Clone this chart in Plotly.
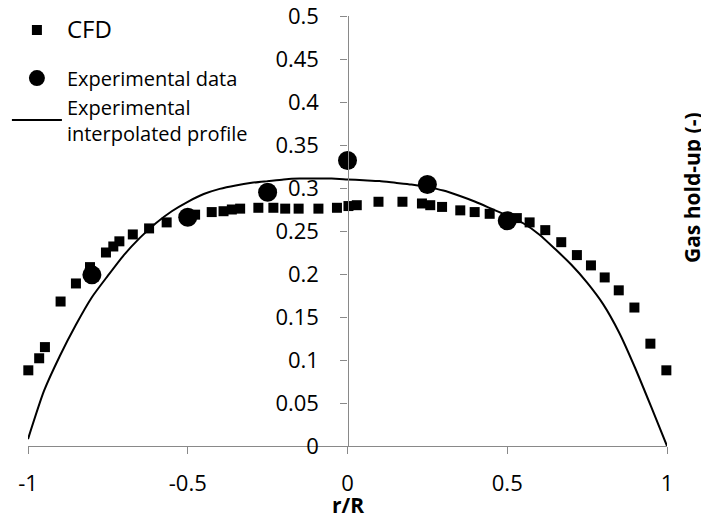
import plotly.graph_objects as go

# ---- data ----
cfd_x = [-0.999, -0.965, -0.947, -0.898, -0.850, -0.806, -0.756, -0.733, -0.714, -0.672,
         -0.621, -0.566, -0.477, -0.425, -0.388, -0.362, -0.336, -0.279, -0.232, -0.195,
         -0.153, -0.091, -0.033, 0.003, 0.029, 0.097, 0.172, 0.233, 0.259, 0.296,
         0.353, 0.398, 0.445, 0.530, 0.570, 0.619, 0.669, 0.718, 0.762, 0.805,
         0.849, 0.898, 0.948, 0.998]
cfd_y = [0.088, 0.102, 0.115, 0.168, 0.189, 0.208, 0.225, 0.232, 0.238, 0.246,
         0.253, 0.260, 0.269, 0.272, 0.273, 0.275, 0.276, 0.277, 0.277, 0.276,
         0.276, 0.276, 0.277, 0.279, 0.280, 0.284, 0.284, 0.282, 0.280, 0.278,
         0.274, 0.272, 0.270, 0.265, 0.260, 0.251, 0.237, 0.222, 0.210, 0.196,
         0.181, 0.161, 0.119, 0.088]

exp_x = [-0.8, -0.5, -0.25, 0.0, 0.25, 0.5]
exp_y = [0.199, 0.266, 0.295, 0.332, 0.304, 0.262]

prof_x = [-1.0, -0.95, -0.9, -0.85, -0.8, -0.75, -0.7, -0.65, -0.6, -0.55, -0.5, -0.45,
          -0.4, -0.35, -0.3, -0.25, -0.2, -0.15, -0.1, -0.05, 0.0, 0.05, 0.1, 0.15,
          0.2, 0.25, 0.3, 0.35, 0.4, 0.45, 0.5, 0.55, 0.6, 0.65, 0.7, 0.75, 0.8,
          0.85, 0.9, 0.95, 1.0]
prof_y = [0.008, 0.064, 0.105, 0.141, 0.173, 0.198, 0.222, 0.242, 0.259, 0.273, 0.284, 0.293,
          0.299, 0.303, 0.306, 0.308, 0.310, 0.311, 0.311, 0.311, 0.310, 0.309, 0.308, 0.306,
          0.304, 0.301, 0.297, 0.291, 0.284, 0.276, 0.268, 0.259, 0.246, 0.229, 0.211, 0.190,
          0.165, 0.132, 0.091, 0.046, 0.0]

x_ticks = [-1, -0.5, 0, 0.5, 1]
x_labels = ["-1", "-0.5", "0", "0.5", "1"]
y_ticks = [0, 0.05, 0.1, 0.15, 0.2, 0.25, 0.3, 0.35, 0.4, 0.45, 0.5]
y_labels = ["0", "0.05", "0.1", "0.15", "0.2", "0.25", "0.3", "0.35", "0.4", "0.45", "0.5"]

FONT = "Open Sans"
GREY = "#898989"

fig = go.Figure()
fig.add_trace(go.Scatter(
    x=cfd_x, y=cfd_y, mode="markers", name="<span style='font-size:24px'>CFD</span>",
    marker=dict(symbol="square", size=10, color="black"),
    cliponaxis=False, legendgroup="a"))
fig.add_trace(go.Scatter(
    x=exp_x, y=exp_y, mode="markers", name="Experimental data",
    marker=dict(symbol="circle", size=19, color="black"),
    cliponaxis=False, legendgroup="b"))
fig.add_trace(go.Scatter(
    x=prof_x, y=prof_y, mode="lines", name="Experimental<br>interpolated profile",
    line=dict(color="black", width=2, shape="spline", smoothing=0.6), legendgroup="b"))

# page body has an 8px margin, so the figure is 8px smaller and margins shifted
fig.update_layout(
    width=701, height=514,
    margin=dict(l=20, r=42, t=8, b=76, autoexpand=False),
    paper_bgcolor="white", plot_bgcolor="white",
    font=dict(family=FONT, size=22, color="black"),
    showlegend=True,
    legend=dict(x=-0.033, y=1.0127, xanchor="left", yanchor="top",
                font=dict(family=FONT, size=20, color="black"),
                traceorder="grouped", tracegroupgap=19, itemwidth=50,
                bgcolor="rgba(0,0,0,0)"),
    xaxis=dict(range=[-1, 1], tickmode="array", tickvals=x_ticks, ticktext=x_labels,
               showline=True, linecolor=GREY, linewidth=1.3, ticks="outside", ticklen=7,
               tickcolor=GREY, tickwidth=1.3, showgrid=False, zeroline=False,
               ticklabelstandoff=10, tickfont=dict(size=22), automargin=False,
               ticklabeloverflow="allow"),
    yaxis=dict(range=[0, 0.5], tickmode="array", tickvals=y_ticks, ticktext=y_labels,
               anchor="free", position=0.5, side="left",
               showline=True, linecolor=GREY, linewidth=1.3, ticks="outside", ticklen=7,
               tickcolor=GREY, tickwidth=1.3, showgrid=False, zeroline=False,
               ticklabelstandoff=17, tickfont=dict(size=22), automargin=False,
               ticklabeloverflow="allow"),
    annotations=[
        dict(text="<b>r/R</b>", x=0.5, y=-0.137, xref="paper", yref="paper",
             xanchor="center", yanchor="middle", showarrow=False,
             font=dict(family=FONT, size=21)),
        dict(text="<b>Gas hold-up (-)</b>", x=1.039, y=0.602, xref="paper", yref="paper",
             xanchor="center", yanchor="middle", showarrow=False, textangle=-90,
             font=dict(family=FONT, size=21)),
    ],
)

fig.write_html("out.html")
